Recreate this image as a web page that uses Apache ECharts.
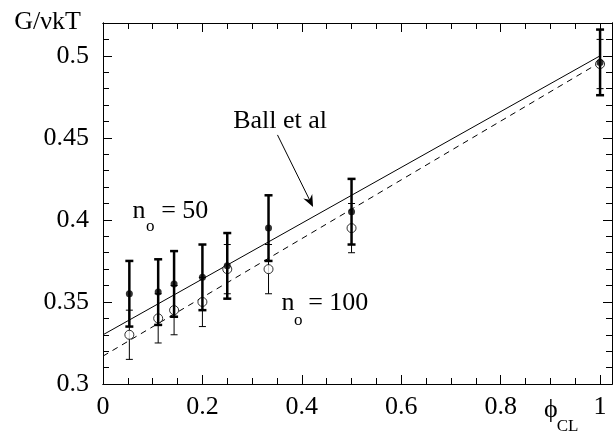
<!DOCTYPE html>
<html>
<head>
<meta charset="utf-8">
<script src="https://cdn.jsdelivr.net/npm/echarts@6/dist/echarts.min.js"></script>
<style>html,body{margin:0;padding:0;background:#fff;}#c{width:615px;height:441px;}</style>
</head>
<body>
<div id="c"></div>
<script>
// ---- data ----
var phi    = [0.053, 0.111, 0.143, 0.2, 0.25, 0.333, 0.5, 1.0];
var G50    = [0.355, 0.356, 0.361, 0.365, 0.372, 0.395, 0.405, 0.496];
var err50  = [0.02, 0.02, 0.02, 0.02, 0.02, 0.02, 0.02, 0.02];
var G100   = [0.330, 0.340, 0.345, 0.350, 0.370, 0.370, 0.395, 0.495];
var err100 = [0.015, 0.015, 0.015, 0.015, 0.015, 0.015, 0.015, 0.015];
var ballX      = [0, 1];
var ballSolid  = [0.33, 0.5];
var ballDashed = [0.317, 0.496];
var xTicks = [0, 0.2, 0.4, 0.6, 0.8, 1];
var yTicks = [0.3, 0.35, 0.4, 0.45, 0.5];

var FONT = "'Liberation Serif', 'Times New Roman', Times, serif";
var FS = 26, FS_SUB = 17;
var X_MAX = 1.024, Y_MIN = 0.3, Y_MAX = 0.52;

function near(v, arr) { for (var i = 0; i < arr.length; i++) if (Math.abs(v - arr[i]) < 1e-6) return true; return false; }

function errRender(capHalf, lw) {
  return function (params, api) {
    var x = api.value(0), lo = api.value(1), hi = api.value(2);
    var p1 = api.coord([x, hi]), p2 = api.coord([x, lo]);
    var st = { stroke: '#000', lineWidth: lw, fill: null };
    return { type: 'group', children: [
      { type: 'line', shape: { x1: p1[0], y1: p1[1], x2: p2[0], y2: p2[1] }, style: st },
      { type: 'line', shape: { x1: p1[0] - capHalf, y1: p1[1], x2: p1[0] + capHalf, y2: p1[1] }, style: st },
      { type: 'line', shape: { x1: p2[0] - capHalf, y1: p2[1], x2: p2[0] + capHalf, y2: p2[1] }, style: st }
    ]};
  };
}

function xAx(pos, interval, tickLen, labels) {
  return {
    type: 'value', position: pos, min: 0, max: X_MAX, interval: interval,
    axisLine: { show: true, onZero: false, lineStyle: { color: '#000', width: 1 } },
    axisTick: { show: true, inside: true, length: tickLen, lineStyle: { color: '#000', width: 1 } },
    axisLabel: labels ? { show: true, margin: 10, color: '#000', fontFamily: FONT, fontSize: FS,
      formatter: function (v) { return near(v, xTicks) ? String(+v.toFixed(2)) : ''; } } : { show: false },
    splitLine: { show: false }
  };
}
function yAx(pos, interval, tickLen, labels) {
  return {
    type: 'value', position: pos, min: Y_MIN, max: Y_MAX, interval: interval,
    axisLine: { show: true, onZero: false, lineStyle: { color: '#000', width: 1 } },
    axisTick: { show: true, inside: true, length: tickLen, lineStyle: { color: '#000', width: 1 } },
    axisLabel: labels ? { show: true, margin: 14, color: '#000', fontFamily: FONT, fontSize: FS,
      formatter: function (v) { return near(v, yTicks) ? String(+v.toFixed(2)) : ''; } } : { show: false },
    splitLine: { show: false }
  };
}

var chart = echarts.init(document.getElementById('c'));
var d50 = phi.map(function (x, i) { return [x, G50[i]]; });
var d100 = phi.map(function (x, i) { return [x, G100[i]]; });
var e50 = phi.map(function (x, i) { return [x, G50[i] - err50[i], G50[i] + err50[i]]; });
var e100 = phi.map(function (x, i) { return [x, G100[i] - err100[i], G100[i] + err100[i]]; });

chart.setOption({
  animation: false,
  backgroundColor: '#fff',
  textStyle: { fontFamily: FONT },
  grid: { left: 103, top: 23, width: (X_MAX) * 504, height: 361, containLabel: false },
  xAxis: [xAx('bottom', 0.2, 9, true), xAx('bottom', 0.05, 6, false), xAx('top', 0.2, 9, false), xAx('top', 0.05, 6, false)],
  yAxis: [yAx('left', 0.05, 9, true), yAx('left', 0.01, 6, false), yAx('right', 0.05, 9, false), yAx('right', 0.01, 6, false)],
  series: [
    { type: 'line', data: ballX.map(function (x, i) { return [x, ballSolid[i]]; }), symbol: 'none',
      lineStyle: { color: '#000', width: 1 }, z: 1 },
    { type: 'line', data: ballX.map(function (x, i) { return [x, ballDashed[i]]; }), symbol: 'none',
      lineStyle: { color: '#000', width: 1, type: [6, 5] }, z: 1 },
    { type: 'custom', data: e100, renderItem: errRender(3.5, 1), clip: false, z: 2 },
    { type: 'scatter', data: d100, symbol: 'circle', symbolSize: 9,
      itemStyle: { color: '#fff', borderColor: '#000', borderWidth: 1 }, z: 3 },
    { type: 'custom', data: e50, renderItem: errRender(4, 2.5), clip: false, z: 4 },
    { type: 'scatter', data: d50, symbol: 'circle', symbolSize: 7,
      itemStyle: { color: '#000' }, z: 5 }
  ]
});

// ---- annotations (positions in data coordinates) ----
var notes = [
  { text: 'G/\u03BDkT', at: [-0.1786, 0.5207], size: FS, align: 'left' },
  { text: 'Ball et al', at: [0.262, 0.4604], size: FS, align: 'left' },
  { text: 'n', at: [0.0595, 0.4055], size: FS, align: 'left' },
  { text: 'o', at: [0.0952, 0.3957], size: FS_SUB, align: 'center' },
  { text: '= 50', at: [0.117, 0.4055], size: FS, align: 'left' },
  { text: 'n', at: [0.359, 0.3494], size: FS, align: 'left' },
  { text: 'o', at: [0.393, 0.3384], size: FS_SUB, align: 'center' },
  { text: '= 100', at: [0.4127, 0.3494], size: FS, align: 'left' },
  { text: '\u03D5', at: [0.9008, 0.2841], size: FS, align: 'center' },
  { text: 'CL', at: [0.9127, 0.2738], size: FS_SUB, align: 'left' }
];
var arrowFrom = [0.351, 0.4518], arrowTo = [0.4226, 0.4079];

var gr = [];
notes.forEach(function (n) {
  var p = chart.convertToPixel({ gridIndex: 0 }, n.at);
  gr.push({ type: 'text', x: p[0], y: p[1], silent: true,
    style: { text: n.text, fontFamily: FONT, fontSize: n.size, fill: '#000', align: n.align, verticalAlign: 'middle' } });
});
var a = chart.convertToPixel({ gridIndex: 0 }, arrowFrom);
var b = chart.convertToPixel({ gridIndex: 0 }, arrowTo);
var dx = b[0] - a[0], dy = b[1] - a[1], L = Math.sqrt(dx * dx + dy * dy);
var ux = dx / L, uy = dy / L, nx = -uy, ny = ux;
var hl = 12, hw = 5, notch = 4;
gr.push({ type: 'line', silent: true, shape: { x1: a[0], y1: a[1], x2: b[0] - ux * notch, y2: b[1] - uy * notch },
  style: { stroke: '#000', lineWidth: 1 } });
gr.push({ type: 'polygon', silent: true, shape: { points: [
  [b[0], b[1]],
  [b[0] - ux * hl + nx * hw, b[1] - uy * hl + ny * hw],
  [b[0] - ux * (hl - notch), b[1] - uy * (hl - notch)],
  [b[0] - ux * hl - nx * hw, b[1] - uy * hl - ny * hw]
] }, style: { fill: '#000' } });
chart.setOption({ graphic: gr });
</script>
</body>
</html>
